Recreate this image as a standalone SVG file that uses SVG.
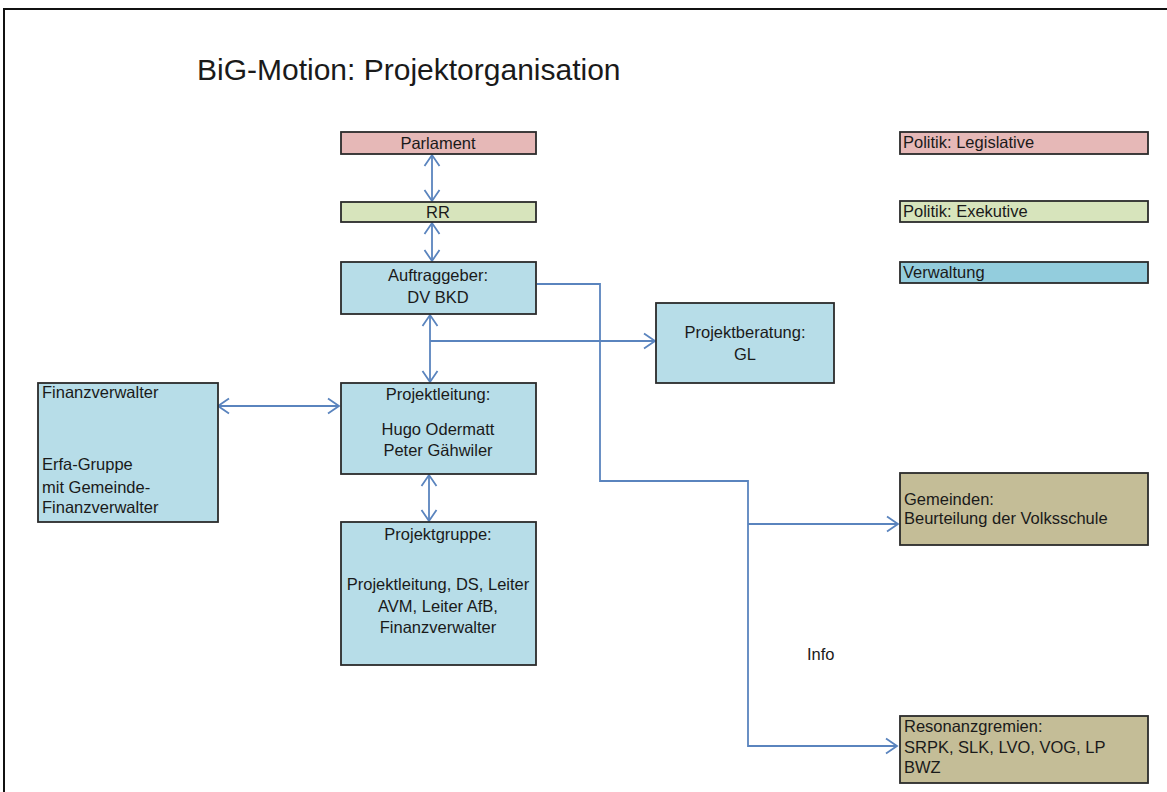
<svg xmlns="http://www.w3.org/2000/svg" width="1167" height="792" viewBox="0 0 1167 792">
<defs>
<style>
text{font-family:"Liberation Sans",Arial,sans-serif;font-size:16.5px;fill:#1a1a1a}
.c{text-anchor:middle}
.box{stroke:#2b2b2b;stroke-width:1.8}
.blue{fill:#b7dde8}
.pink{fill:#e6b8b7}
.green{fill:#d7e4bc}
.tan{fill:#c4bd97}
.conn{fill:none;stroke:#5a84be;stroke-width:1.8}
</style>
<marker id="arr" markerUnits="userSpaceOnUse" markerWidth="14" markerHeight="18" refX="12" refY="9" orient="auto-start-reverse">
<path d="M1,1.5 L12,9 L1,16.5" fill="none" stroke="#5a84be" stroke-width="1.8"/>
</marker>
</defs>
<rect width="1167" height="792" fill="#ffffff"/>
<path d="M4,792 V9 H1167" fill="none" stroke="#111" stroke-width="2"/>
<text x="197" y="80" style="font-size:30px">BiG-Motion: Projektorganisation</text>

<g id="connectors">
<line class="conn" x1="432" y1="155" x2="432" y2="201" marker-start="url(#arr)" marker-end="url(#arr)"/>
<line class="conn" x1="432" y1="223" x2="432" y2="261" marker-start="url(#arr)" marker-end="url(#arr)"/>
<line class="conn" x1="430" y1="315" x2="430" y2="382" marker-start="url(#arr)" marker-end="url(#arr)"/>
<path class="conn" d="M430,341 H655" marker-end="url(#arr)"/>
<line class="conn" x1="218" y1="406" x2="339" y2="406" marker-start="url(#arr)" marker-end="url(#arr)"/>
<line class="conn" x1="429" y1="475" x2="429" y2="521" marker-start="url(#arr)" marker-end="url(#arr)"/>
<path class="conn" d="M537,284 H600 V481 H748 V746 H897" marker-end="url(#arr)"/>
<path class="conn" d="M748,524 H898" marker-end="url(#arr)"/>
</g>

<g id="parlament">
<rect class="box pink" x="341" y="132" width="195" height="22"/>
<text class="c" x="438" y="149">Parlament</text>
</g>
<g id="rr">
<rect class="box green" x="341" y="202" width="195" height="20"/>
<text class="c" x="438" y="218">RR</text>
</g>
<g id="auftraggeber">
<rect class="box blue" x="341" y="262" width="195" height="52"/>
<text class="c" x="438" y="281">Auftraggeber:</text>
<text class="c" x="438" y="303">DV BKD</text>
</g>
<g id="projektberatung">
<rect class="box blue" x="656" y="303" width="178" height="80"/>
<text class="c" x="745" y="338">Projektberatung:</text>
<text class="c" x="745" y="360">GL</text>
</g>
<g id="finanzverwalter">
<rect class="box blue" x="38" y="383" width="180" height="139"/>
<text x="42" y="398">Finanzverwalter</text>
<text x="42" y="470">Erfa-Gruppe</text>
<text x="42" y="493">mit Gemeinde-</text>
<text x="42" y="513">Finanzverwalter</text>
</g>
<g id="projektleitung">
<rect class="box blue" x="341" y="383" width="195" height="91"/>
<text class="c" x="438" y="400">Projektleitung:</text>
<text class="c" x="438" y="435">Hugo Odermatt</text>
<text class="c" x="438" y="456">Peter Gähwiler</text>
</g>
<g id="projektgruppe">
<rect class="box blue" x="341" y="522" width="195" height="143"/>
<text class="c" x="438" y="540">Projektgruppe:</text>
<text class="c" x="438" y="590">Projektleitung, DS, Leiter</text>
<text class="c" x="438" y="612">AVM, Leiter AfB,</text>
<text class="c" x="438" y="633">Finanzverwalter</text>
</g>
<g id="gemeinden">
<rect class="box tan" x="900" y="473" width="248" height="72"/>
<text x="904" y="505">Gemeinden:</text>
<text x="904" y="524">Beurteilung der Volksschule</text>
</g>
<g id="resonanzgremien">
<rect class="box tan" x="900" y="716" width="248" height="67"/>
<text x="904" y="732">Resonanzgremien:</text>
<text x="904" y="753">SRPK, SLK, LVO, VOG, LP</text>
<text x="904" y="773">BWZ</text>
</g>
<g id="legend-legislative">
<rect class="box pink" x="900" y="132" width="248" height="22"/>
<text x="903" y="148">Politik: Legislative</text>
</g>
<g id="legend-exekutive">
<rect class="box green" x="900" y="201" width="248" height="21"/>
<text x="903" y="217">Politik: Exekutive</text>
</g>
<g id="legend-verwaltung">
<rect class="box" x="900" y="262" width="248" height="21" fill="#93cddd"/>
<text x="903" y="278">Verwaltung</text>
</g>
<g id="info">
<text x="807" y="660">Info</text>
</g>
</svg>
